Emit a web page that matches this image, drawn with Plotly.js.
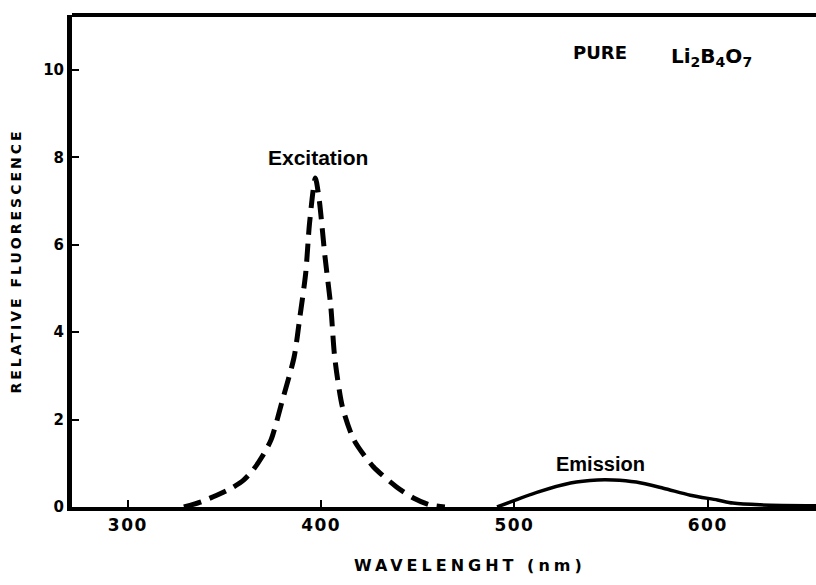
<!DOCTYPE html>
<html>
<head>
<meta charset="utf-8">
<script src="https://cdn.plot.ly/plotly-3.0.1.min.js"></script>
<style>
  html, body { margin: 0; padding: 0; background: #fff; }
  #chart { width: 816px; height: 585px; }
  .ytitle { letter-spacing: 3px; }
  .xtick text { letter-spacing: 1.5px; }
</style>
</head>
<body>
<div id="chart"></div>
<script>
// Wavelength (nm) and relative fluorescence
const excitationNm  = [329, 338, 346, 354, 360, 365, 369, 374, 380, 386, 389, 392, 394, 397, 399, 402, 405, 407, 411, 417, 427, 439, 448, 456, 464];
const excitationRel = [0.00, 0.12, 0.27, 0.44, 0.62, 0.86, 1.12, 1.53, 2.45, 3.43, 4.35, 5.35, 6.50, 7.53, 7.03, 5.72, 4.58, 3.43, 2.29, 1.53, 0.92, 0.46, 0.20, 0.05, 0.00];

const emissionNm  = [491, 512, 529, 543, 551, 563, 577, 591, 605, 613, 627, 656];
const emissionRel = [0.00, 0.34, 0.55, 0.62, 0.62, 0.57, 0.43, 0.27, 0.16, 0.09, 0.05, 0.03];

const xTickVals = [300, 400, 500, 600];
const yTickVals = [0, 2, 4, 6, 8, 10];

const FONT = 'Liberation Sans, Arial, sans-serif';
const TICKFONT = 'DejaVu Sans, Liberation Sans, sans-serif';

const traces = [
  {
    x: excitationNm, y: excitationRel, type: 'scatter', mode: 'lines',
    name: 'Excitation',
    line: { color: '#000', width: 5, dash: '18px,9px', shape: 'spline', smoothing: 0.7 },
    hoverinfo: 'x+y'
  },
  {
    x: emissionNm, y: emissionRel, type: 'scatter', mode: 'lines',
    name: 'Emission',
    line: { color: '#000', width: 3.5, shape: 'spline', smoothing: 0.8 },
    hoverinfo: 'x+y'
  }
];

const layout = {
  width: 816, height: 585,
  margin: { l: 72, r: 0, t: 15, b: 78 },
  paper_bgcolor: '#fff', plot_bgcolor: '#fff',
  showlegend: false,
  font: { family: FONT, color: '#000' },
  xaxis: {
    range: [271.1, 656],
    tickvals: xTickVals,
    ticks: 'inside', ticklen: 7, tickwidth: 2, tickcolor: '#000',
    showline: true, linewidth: 4, linecolor: '#000',
    showgrid: false, zeroline: false,
    tickfont: { family: TICKFONT, size: 17, weight: 'bold', color: '#000' }
  },
  yaxis: {
    range: [0, 11.26],
    tickvals: yTickVals,
    ticks: 'inside', ticklen: 7, tickwidth: 2, tickcolor: '#000',
    showline: true, linewidth: 5, linecolor: '#000',
    showgrid: false, zeroline: false,
    tickfont: { family: TICKFONT, size: 15, weight: 'bold', color: '#000' },
    title: { text: 'RELATIVE FLUORESCENCE', standoff: 20,
             font: { family: TICKFONT, size: 14, weight: 'bold', color: '#000' } }
  },
  shapes: [
    { type: 'line', xref: 'paper', yref: 'paper', x0: 0, x1: 1, y0: 1, y1: 1,
      line: { color: '#000', width: 4 } }
  ],
  annotations: [
    { text: 'WAVELENGHT (nm)', x: 0.535, y: -0.118, xref: 'paper', yref: 'paper',
      xanchor: 'center', yanchor: 'middle', showarrow: false,
      font: { family: TICKFONT, size: 16, weight: 'bold', color: '#000' } },
    { text: 'Excitation', x: 398.4, y: 8.01, xref: 'x', yref: 'y', showarrow: false,
      font: { family: FONT, size: 21, weight: 'bold', color: '#000' } },
    { text: 'Emission', x: 544.7, y: 0.98, xref: 'x', yref: 'y', showarrow: false,
      font: { family: FONT, size: 20, weight: 'bold', color: '#000' } },
    { text: 'PURE', x: 544.3, y: 10.41, xref: 'x', yref: 'y', showarrow: false,
      font: { family: TICKFONT, size: 18, weight: 'bold', color: '#000' } },
    { text: 'Li<sub>2</sub>B<sub>4</sub>O<sub>7</sub>', x: 601.8, y: 10.3, xref: 'x', yref: 'y', showarrow: false,
      font: { family: TICKFONT, size: 20, weight: 'bold', color: '#000' } }
  ]
};

Plotly.newPlot('chart', traces, layout, { staticPlot: true, displayModeBar: false }).then(function () {
  // widen the letter spacing of the x-axis caption, as in the original figure
  document.querySelectorAll('.annotation-text').forEach(function (t) {
    if (t.textContent.indexOf('WAVELENGHT') === 0) { t.style.letterSpacing = '4px'; }
  });
});
</script>
</body>
</html>
